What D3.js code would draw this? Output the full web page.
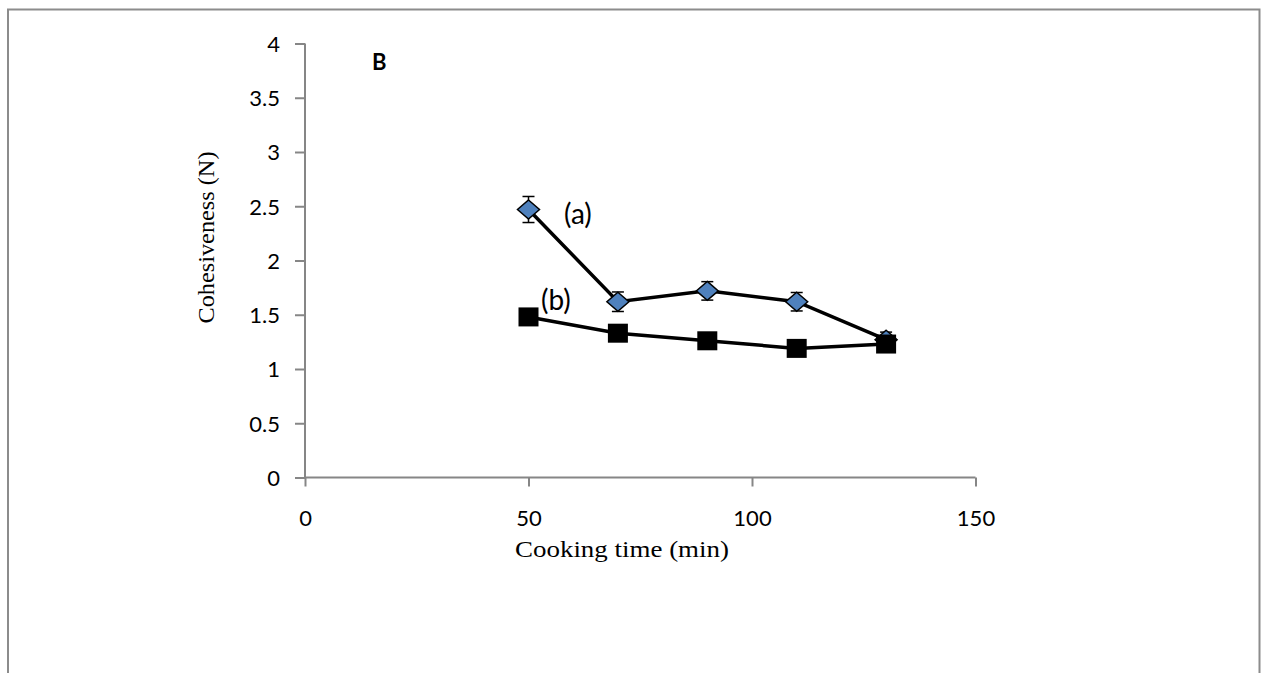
<!DOCTYPE html>
<html>
<head>
<meta charset="utf-8">
<script src="https://cdn.jsdelivr.net/npm/d3@7"></script>
<style>
  html, body { margin: 0; padding: 0; background: #fff; }
  svg { display: block; }
</style>
</head>
<body>
<svg id="chart" width="1264" height="673"></svg>
<script>
// Cooking time (min)
const cookingTime = [50, 70, 90, 110, 130];
// Series (a): cohesiveness with standard deviation
const seriesA = [2.47, 1.62, 1.72, 1.62, 1.27];
const errorA  = [0.12, 0.09, 0.085, 0.085, 0.07];
// Series (b): cohesiveness
const seriesB = [1.48, 1.33, 1.26, 1.19, 1.23];

const xTicks = [0, 50, 100, 150];
const yTicks = [0, 0.5, 1, 1.5, 2, 2.5, 3, 3.5, 4];

const svg = d3.select("#chart");
const axisColor = "#868686";
const tickFont = "Lato, 'Open Sans', sans-serif";
const titleFont = "'Liberation Serif', 'Times New Roman', serif";

// Outer frame
svg.append("path")
  .attr("d", "M8,700 V9.5 H1259.5 V700")
  .attr("fill", "none")
  .attr("stroke", "#8c8c8c")
  .attr("stroke-width", 2);

const x = d3.scaleLinear().domain([0, 150]).range([305, 975.5]);
const y = d3.scaleLinear().domain([0, 4]).range([477.5, 43.5]);

// Y axis
const yAxis = svg.append("g")
  .attr("transform", `translate(${x(0)},0)`)
  .call(d3.axisLeft(y).tickValues(yTicks).tickSize(10).tickPadding(15)
    .tickFormat(d => d3.format("~g")(d)));
// X axis
const xAxis = svg.append("g")
  .attr("transform", `translate(0,${y(0)})`)
  .call(d3.axisBottom(x).tickValues(xTicks).tickSize(9).tickPadding(24)
    .tickFormat(d3.format("d")));

[yAxis, xAxis].forEach(g => {
  g.attr("font-family", tickFont).attr("font-size", 22);
  g.select(".domain").attr("stroke", axisColor).attr("stroke-width", 2)
    .attr("d", g === yAxis ? `M0,${y(4)}V${y(0)}` : `M${x(0)},0H${x(150)}`);
  g.selectAll(".tick line").attr("stroke", axisColor).attr("stroke-width", 2);
  g.selectAll(".tick text").attr("fill", "#000");
});
yAxis.selectAll(".tick text").attr("dy", "0.36em");

// Axis titles
svg.append("text")
  .attr("x", 622).attr("y", 557)
  .attr("text-anchor", "middle")
  .attr("font-family", titleFont).attr("font-size", 24)
  .attr("textLength", 214).attr("lengthAdjust", "spacingAndGlyphs")
  .text("Cooking time (min)");
svg.append("text")
  .attr("transform", `translate(214,${(y(0) + y(4)) / 2 - 23}) rotate(-90)`)
  .attr("text-anchor", "middle")
  .attr("font-family", titleFont).attr("font-size", 24)
  .attr("textLength", 172).attr("lengthAdjust", "spacingAndGlyphs")
  .text("Cohesiveness (N)");

// Panel letter
svg.append("text")
  .attr("x", 372).attr("y", 70)
  .attr("font-family", tickFont).attr("font-weight", "bold").attr("font-size", 22)
  .text("B");

const line = d3.line().x(d => x(d[0])).y(d => y(d[1]));

// Series (a)
const ptsA = cookingTime.map((t, i) => [t, seriesA[i]]);
svg.append("path").datum(ptsA).attr("d", line)
  .attr("fill", "none").attr("stroke", "#000").attr("stroke-width", 3.5);

const eb = svg.append("g").attr("stroke", "#000").attr("stroke-width", 1.5);
cookingTime.forEach((t, i) => {
  const cx = x(t), top = y(seriesA[i] + errorA[i]), bot = y(seriesA[i] - errorA[i]);
  eb.append("line").attr("x1", cx).attr("x2", cx).attr("y1", top).attr("y2", bot);
  eb.append("line").attr("x1", cx - 6).attr("x2", cx + 6).attr("y1", top).attr("y2", top);
  eb.append("line").attr("x1", cx - 6).attr("x2", cx + 6).attr("y1", bot).attr("y2", bot);
});

svg.append("g").selectAll("path").data(ptsA).join("path")
  .attr("transform", d => `translate(${x(d[0])},${y(d[1])})`)
  .attr("d", "M0,-9.5L11,0L0,9.5L-11,0Z")
  .attr("fill", "#4f81bd").attr("stroke", "#000").attr("stroke-width", 1.5);

// Series (b)
const ptsB = cookingTime.map((t, i) => [t, seriesB[i]]);
svg.append("path").datum(ptsB).attr("d", line)
  .attr("fill", "none").attr("stroke", "#000").attr("stroke-width", 3.5);
svg.append("g").selectAll("rect").data(ptsB).join("rect")
  .attr("x", d => x(d[0]) - 10).attr("y", d => y(d[1]) - 9.5)
  .attr("width", 20).attr("height", 19)
  .attr("fill", "#000");

// Series labels
svg.append("text").attr("x", 564).attr("y", 224)
  .attr("font-family", tickFont).attr("font-size", 28).text("(a)");
svg.append("text").attr("x", 541).attr("y", 310)
  .attr("font-family", tickFont).attr("font-size", 28).text("(b)");
</script>
</body>
</html>
